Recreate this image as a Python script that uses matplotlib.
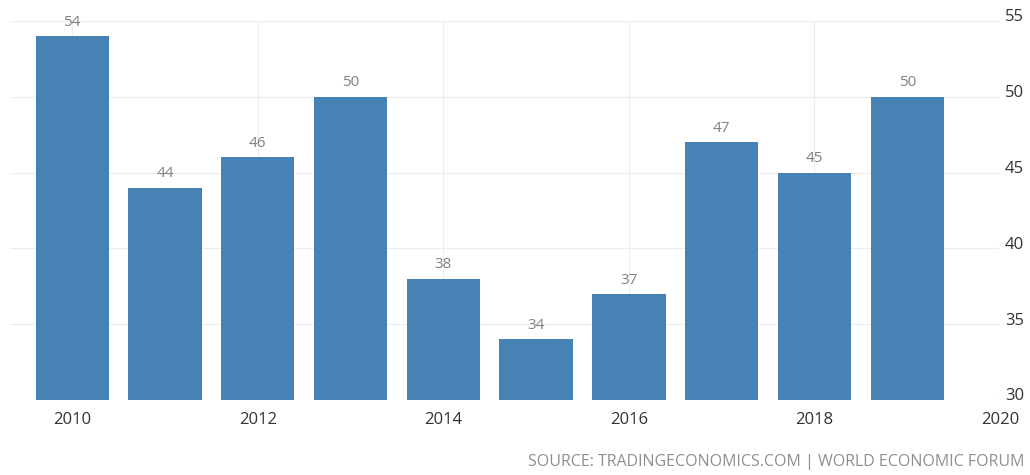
import matplotlib
matplotlib.use("Agg")
import matplotlib.pyplot as plt
from matplotlib.transforms import ScaledTranslation

# Données
annees = [2010, 2011, 2012, 2013, 2014, 2015, 2016, 2017, 2018, 2019]
valeurs = [54, 44, 46, 50, 38, 34, 37, 47, 45, 50]
ticks_x = [2010, 2012, 2014, 2016, 2018, 2020]
ticks_y = [30, 35, 40, 45, 50, 55]
source = "SOURCE: TRADINGECONOMICS.COM | WORLD ECONOMIC FORUM"

plt.rcParams['font.family'] = ['Open Sans', 'DejaVu Sans']

fig = plt.figure(figsize=(10.3, 4.75), dpi=100)
ax = fig.add_axes([0.0097, 0.158, 0.9612, 0.798])

ax.bar(annees, valeurs, width=0.79, color='#4682b4', zorder=2)

# Étiquettes de valeurs au-dessus des barres
for x, v in zip(annees, valeurs):
    ax.annotate(str(v), (x, v), xytext=(0, 4.5), textcoords='offset points',
                ha='center', va='bottom', fontsize=11, color='#808080')

ax.set_xlim(2009.33, 2020)
ax.set_ylim(30, 55)
ax.set_xticks(ticks_x)
ax.set_yticks(ticks_y)

ax.yaxis.tick_right()
ax.tick_params(axis='both', length=0, labelsize=12, labelcolor='#333333')
ax.tick_params(axis='x', pad=9)
ax.tick_params(axis='y', pad=3.5)
# Décalez les étiquettes de l'axe y un peu vers le haut
decalage = ScaledTranslation(0, 4 / 72, fig.dpi_scale_trans)
for lab in ax.get_yticklabels():
    lab.set_transform(lab.get_transform() + decalage)

ax.grid(True, color='#ededed', linewidth=0.8, zorder=0)
for s in ax.spines.values():
    s.set_visible(False)

fig.text(0.995, 0.01, source, ha='right', va='bottom', fontsize=11.5, color='#8f8f8f')

fig.savefig('out.png', dpi=100)
